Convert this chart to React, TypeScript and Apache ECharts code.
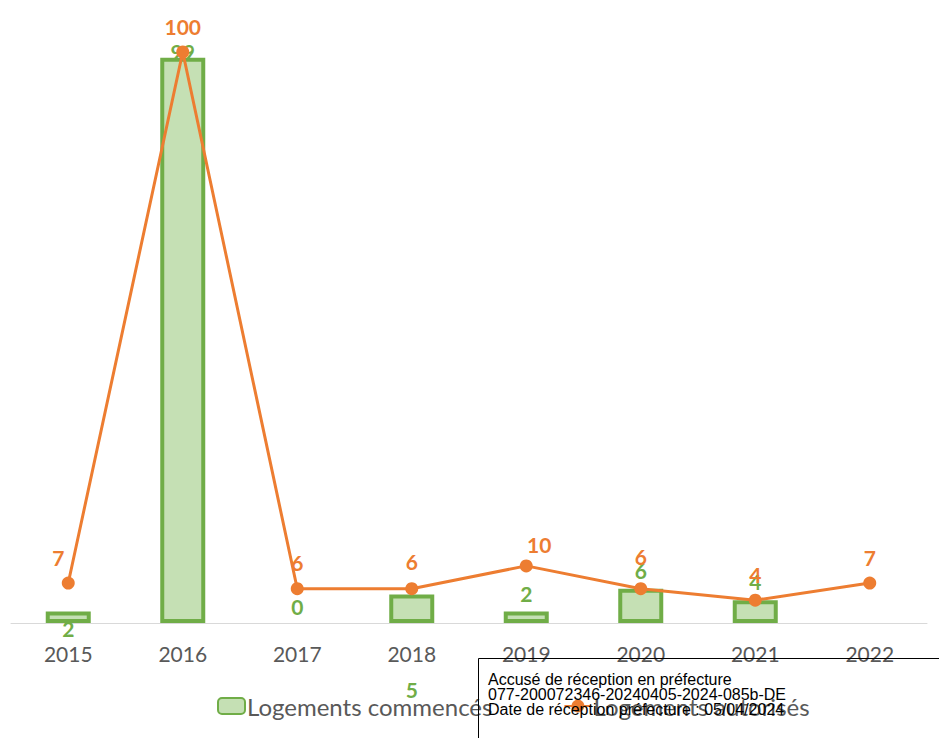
import React, { useEffect, useRef } from "react";
import * as echarts from "echarts";

const years = ["2015", "2016", "2017", "2018", "2019", "2020", "2021", "2022"];
const commences: (number | null)[] = [2, 99, 0, 5, 2, 6, 4, null];
const autorises = [7, 100, 6, 6, 10, 6, 4, 7];
const commencesLabelOffsets: [number, number][] = [[0, 35], [0, 12], [0, 2], [0, 114], [0, 0], [0, 0], [0, 0], [0, 0]];
const autorisesLabelOffsets: [number, number][] = [[-10, 0], [0, 0], [0, 0], [0, -1], [13, 5], [0, -6], [0, 0], [0, 0]];
const stampLines = [
  "Accusé de réception en préfecture",
  "077-200072346-20240405-2024-085b-DE",
  "Date de réception préfecture : 05/04/2024",
];

const GREEN = "#70AD47";
const GREEN_FILL = "#C5E0B4";
const ORANGE = "#ED7D31";
const FONT = "Lato, 'Open Sans', sans-serif";

export default function App() {
  const ref = useRef<HTMLDivElement>(null);
  useEffect(() => {
    if (!ref.current) return;
    const chart = echarts.init(ref.current, null, { renderer: "svg" });
    chart.setOption({
      animation: false,
      backgroundColor: "#ffffff",
      grid: { left: 11, right: 12, top: 52, bottom: 115 },
      xAxis: {
        type: "category",
        data: years,
        axisLine: { lineStyle: { color: "#D9D9D9", width: 1 } },
        axisTick: { show: false },
        axisLabel: { color: "#595959", fontSize: 21, fontFamily: FONT, margin: 20 },
      },
      yAxis: { type: "value", min: 0, max: 100, show: false, splitLine: { show: false } },
      legend: {
        left: 212,
        top: 689,
        itemGap: 71,
        itemWidth: 27,
        itemHeight: 16,
        textStyle: { color: "#595959", fontSize: 24, fontFamily: FONT, padding: [0, 0, 0, -3] },
        data: ["Logements commencés", "Logements autorisés"],
      },
      series: [
        {
          name: "Logements commencés",
          type: "bar",
          barWidth: 45,
          itemStyle: { color: GREEN_FILL, borderColor: GREEN, borderWidth: 4 },
          data: commences.map((v, i) => ({
            value: v,
            itemStyle: v === 0 ? { borderWidth: 0 } : undefined,
            label: { offset: commencesLabelOffsets[i] },
          })),
          label: {
            show: true,
            position: "top",
            distance: 8,
            color: GREEN,
            fontWeight: "bold",
            fontSize: 21,
            fontFamily: FONT,
          },
          z: 2,
        },
        {
          name: "Logements autorisés",
          type: "line",
          symbol: "circle",
          symbolSize: 13,
          lineStyle: { color: ORANGE, width: 3 },
          itemStyle: { color: ORANGE },
          data: autorises.map((v, i) => ({
            value: v,
            label: { offset: autorisesLabelOffsets[i] },
          })),
          label: {
            show: true,
            position: "top",
            distance: 9,
            color: ORANGE,
            fontWeight: "bold",
            fontSize: 21,
            fontFamily: FONT,
          },
          z: 3,
        },
      ],
      graphic: [
        {
          type: "rect",
          shape: { x: 478.5, y: 658.5, width: 470, height: 100 },
          style: { fill: "transparent", stroke: "#000000", lineWidth: 1 },
          z: 100,
        },
        ...stampLines.map((t, i) => ({
          type: "text",
          x: 488,
          y: 671 + i * 15.4,
          style: {
            text: t,
            fill: "#000000",
            fontSize: 16,
            fontFamily: "'Liberation Sans', Arial, sans-serif",
          },
          z: 101,
        })),
      ],
    });
    return () => chart.dispose();
  }, []);
  return (
    <div
      ref={ref}
      style={{ position: "fixed", left: 0, top: 0, width: 939, height: 738 }}
    />
  );
}
